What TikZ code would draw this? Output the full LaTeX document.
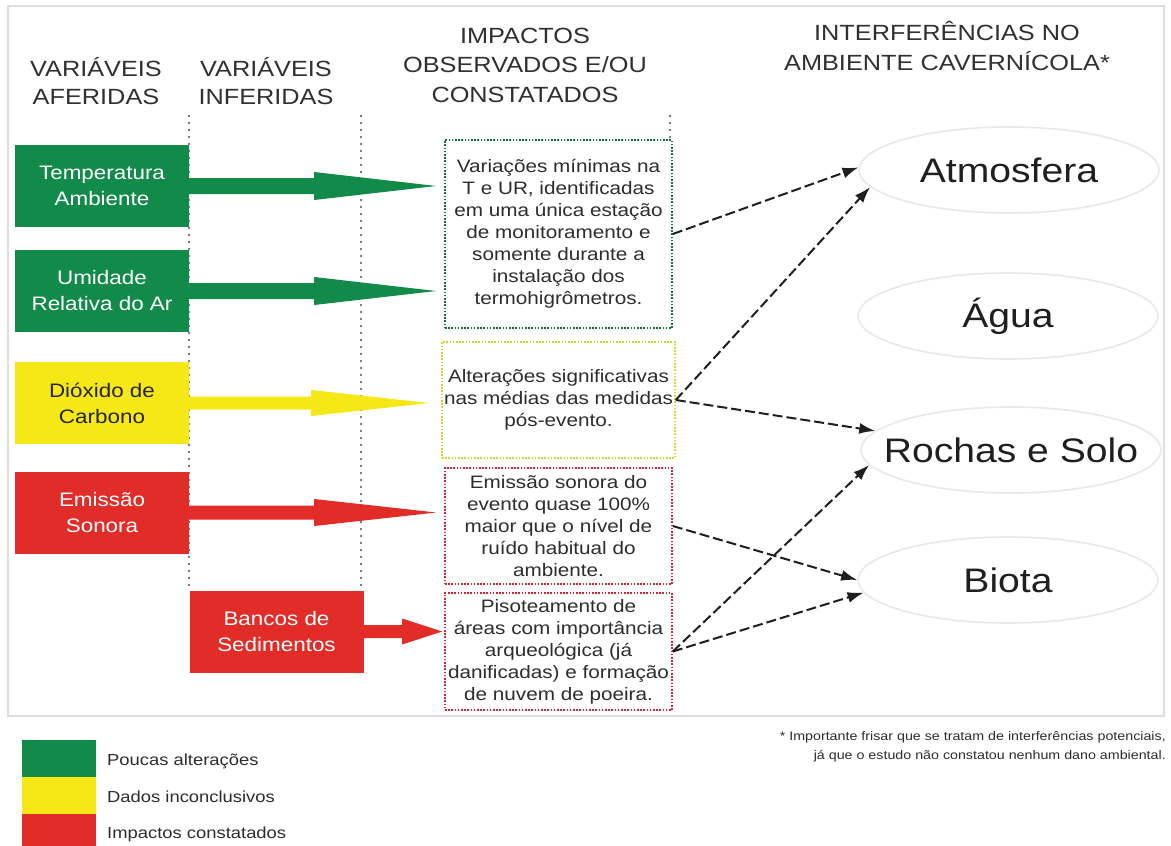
\documentclass[tikz,border=0pt]{standalone}
\usepackage{fontspec}
\setmainfont{Liberation Sans}[FakeStretch=1.15]
\usetikzlibrary{arrows.meta,shapes.geometric,calc}
\definecolor{cgreen}{RGB}{18,138,74}
\definecolor{cyellow}{RGB}{246,232,22}
\definecolor{cred}{RGB}{226,44,40}
\definecolor{dgreen}{RGB}{22,112,62}
\definecolor{dyellow}{RGB}{214,212,50}
\definecolor{dred}{RGB}{200,40,62}
\definecolor{hdrgray}{RGB}{48,48,48}
\definecolor{txtgray}{RGB}{45,45,45}
\definecolor{ellgray}{RGB}{232,232,232}
\definecolor{panelgray}{RGB}{222,222,222}
\definecolor{sepgray}{RGB}{80,80,80}
\newcommand{\mkbarrow}[7]{% color, from, to, shaft half, head half, head length, gap
  \fill[#1] let \p1=(#2.east), \p2=(#3.west) in
    (\x1,\y1-#4) -- (\x2-#7-#6,\y1-#4) -- (\x2-#7-#6,\y1-#5) -- (\x2-#7,\y1)
    -- (\x2-#7-#6,\y1+#5) -- (\x2-#7-#6,\y1+#4) -- (\x1,\y1+#4) -- cycle;}
\begin{document}
\begin{tikzpicture}[x=1pt,y=-1pt,
  hdr/.style={font=\fontsize{22}{28}\selectfont, text=hdrgray, align=center, inner sep=0pt},
  varbox/.style={minimum width=174pt, minimum height=82pt, inner sep=0pt, align=center,
    font=\fontsize{19.5}{26}\selectfont},
  impbox/.style={draw, fill=white, dash pattern=on 1.6pt off 1.6pt, line width=1.6pt,
    minimum width=227pt, inner sep=2pt, align=center,
    font=\fontsize{18}{22}\selectfont, text=txtgray},
  ell/.style={ellipse, draw=ellgray, line width=1.6pt, minimum width=300pt,
    minimum height=86pt, inner sep=0pt, font=\fontsize{34}{40}\selectfont, text=black!88},
  conn/.style={-{Latex[length=16pt,width=11pt]}, line width=2pt,
    dash pattern=on 10pt off 4pt, black!88},
  sep/.style={line width=2.2pt, dash pattern=on 0pt off 7pt, line cap=round, sepgray},
  legbox/.style={minimum width=74pt, minimum height=37pt, inner sep=0pt, anchor=north west},
  legtxt/.style={anchor=base west, inner sep=0pt, font=\fontsize{16}{20}\selectfont, text=txtgray},
  foot/.style={anchor=base east, inner sep=0pt, font=\fontsize{12.4}{15}\selectfont, text=txtgray}
]
\useasboundingbox (0,0) rectangle (1171,846);
\fill[white] (0,0) rectangle (1171,846);
\draw[panelgray, line width=1.5pt] (8,6) rectangle (1164,716);

% separators
\draw[sep] (189,116) -- (189,590);
\draw[sep] (361,116) -- (361,674);
\draw[sep] (670,116) -- (670,140);

% headers
\node[hdr] (h1) at (96,81) {VARIÁVEIS\\AFERIDAS};
\node[hdr] (h2) at (266,81) {VARIÁVEIS\\INFERIDAS};
\node[hdr, font=\fontsize{22}{29.5}\selectfont] (h3) at (525,65) {IMPACTOS\\OBSERVADOS E/OU\\CONSTATADOS};
\node[hdr, font=\fontsize{22}{30}\selectfont] (h4) at (947,46) {INTERFERÊNCIAS NO\\AMBIENTE CAVERNÍCOLA*};

% variable boxes
\node[varbox, fill=cgreen, text=white] (t) at (102,186) {Temperatura\\Ambiente};
\node[varbox, fill=cgreen, text=white] (u) at (102,291) {Umidade\\Relativa do Ar};
\node[varbox, fill=cyellow, text=black!85] (c) at (102,403) {Dióxido de\\Carbono};
\node[varbox, fill=cred, text=white] (e) at (102,512.5) {Emissão\\Sonora};
\node[varbox, fill=cred, text=white] (s) at (276.5,631.5) {Bancos de\\Sedimentos};

% impact boxes
\node[impbox, draw=dgreen, minimum height=188pt] (b1) at (558.5,234) {Variações mínimas na\\T e UR, identificadas\\em uma única estação\\de monitoramento e\\somente durante a\\instalação dos\\termohigrômetros.};
\node[impbox, draw=dyellow, minimum height=116pt] (b2) at (558.5,400) {Alterações significativas\\nas médias das medidas\\pós-evento.};
\node[impbox, draw=dred, minimum height=116pt] (b3) at (558.5,526) {Emissão sonora do\\evento quase 100\%\\maior que o nível de\\ruído habitual do\\ambiente.};
\node[impbox, draw=dred, minimum height=117pt] (b4) at (558.5,651.5) {Pisoteamento de\\áreas com importância\\arqueológica (já\\danificadas) e formação\\de nuvem de poeira.};

% block arrows
\mkbarrow{cgreen}{t}{b1}{8pt}{14pt}{122pt}{8pt}
\mkbarrow{cgreen}{u}{b1}{8pt}{14pt}{122pt}{8pt}
\mkbarrow{cyellow}{c}{b2}{6.5pt}{13pt}{118pt}{12pt}
\mkbarrow{cred}{e}{b3}{7pt}{13.5pt}{122pt}{8pt}
\mkbarrow{cred}{s}{b4}{6.5pt}{13pt}{40pt}{2pt}

% ellipses
\node[ell] (atm) at (1009,170) {\makebox[0pt]{Atmosfera}};
\node[ell] (agu) at (1008,316) {\makebox[0pt]{Água}};
\node[ell] (roc) at (1011,450) {\makebox[0pt]{Rochas e Solo}};
\node[ell] (bio) at (1008,580) {\makebox[0pt]{Biota}};

% connectors
\draw[conn] (b1.east) -- (atm.179);
\draw[conn] (b2.east) -- (atm.187);
\draw[conn] (b2.east) -- (roc.172);
\draw[conn] (b3.east) -- (bio.180);
\draw[conn] (b4.east) -- (roc.186);
\draw[conn] (b4.east) -- (bio.185);

% legend
\node[legbox, fill=cgreen] (lg) at (22,740) {};
\node[legbox, fill=cyellow] (ly) at (22,777) {};
\node[legbox, fill=cred] (lr) at (22,814) {};
\node[legtxt] (lgt) at (107,765) {Poucas alterações};
\node[legtxt] (lyt) at (107,802) {Dados inconclusivos};
\node[legtxt] (lrt) at (107,838) {Impactos constatados};

% footnote
\node[foot] (f1) at (1166,740) {* Importante frisar que se tratam de interferências potenciais,};
\node[foot] (f2) at (1166,759) {já que o estudo não constatou nenhum dano ambiental.};
\end{tikzpicture}
\end{document}
